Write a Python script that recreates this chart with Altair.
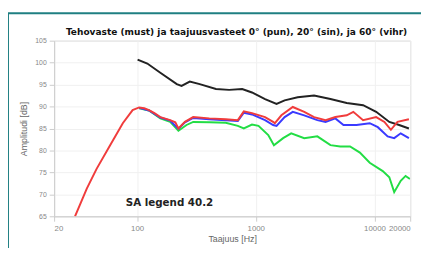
import altair as alt
import pandas as pd

# Power response (black)
black_f = [101, 122, 157, 216, 237, 278, 337, 462, 596, 768, 929, 1197, 1496, 1750, 2255, 3098, 4256, 5838, 8020, 10334, 13335, 16140, 19500]
black_db = [100.7, 99.8, 97.7, 95.1, 94.7, 95.7, 95.1, 94.0, 93.8, 94.0, 93.2, 91.7, 90.6, 91.4, 92.1, 92.5, 91.7, 90.8, 90.3, 88.8, 86.5, 85.8, 85.0]

# 0 deg (red)
red_f = [30, 37.7, 45.6, 58.8, 75.8, 91.7, 104, 115, 126, 140, 157, 190, 210, 223, 253, 297, 406, 559, 706, 793, 929, 1197, 1400, 1449, 1644, 2050, 2560, 3098, 3873, 4680, 5838, 6634, 8020, 10334, 12125, 13750, 15620, 19500]
red_db = [65.0, 71.3, 75.8, 81.0, 86.2, 89.2, 89.8, 89.6, 89.2, 88.5, 87.6, 86.9, 86.4, 85.0, 86.5, 87.6, 87.3, 87.1, 86.9, 88.9, 88.5, 87.6, 86.5, 86.2, 88.0, 89.9, 88.8, 87.6, 86.9, 87.6, 88.0, 88.8, 86.9, 87.6, 86.5, 84.7, 86.5, 87.1]

# 20 deg (blue)
blue_f = [104, 126, 157, 190, 223, 253, 297, 406, 559, 706, 793, 929, 1197, 1400, 1496, 1750, 2050, 2560, 3300, 3873, 4680, 5480, 7060, 9120, 10670, 12910, 14660, 16640, 19500]
blue_db = [89.7, 89.1, 87.5, 86.8, 84.9, 86.4, 87.4, 87.1, 86.9, 86.7, 88.6, 88.2, 86.9, 85.8, 85.6, 87.6, 88.8, 88.0, 86.9, 86.5, 87.3, 85.8, 85.8, 86.2, 85.3, 83.2, 82.8, 83.9, 82.8]

# 60 deg (green)
green_f = [104, 126, 157, 190, 223, 261, 297, 406, 559, 706, 793, 929, 1054, 1274, 1422, 1700, 1988, 2560, 3300, 4256, 5150, 6225, 7535, 9120, 11740, 13335, 14660, 16640, 18280, 19900]
green_db = [89.6, 89.1, 87.3, 86.5, 84.5, 85.8, 86.5, 86.4, 86.3, 85.6, 85.0, 85.9, 85.6, 83.5, 81.2, 82.8, 83.9, 82.8, 83.2, 81.2, 80.9, 80.9, 79.5, 77.2, 75.3, 73.9, 70.5, 73.1, 74.2, 73.5]

x_ticks = [20, 100, 1000, 10000, 20000]
y_ticks = [65, 70, 75, 80, 85, 90, 95, 100, 105]

title_text = ["Tehovaste (must) ja taajuusvasteet 0° (pun), 20° (sin), ja 60° (vihr)"]
note_text = ["SA legend 40.2"]

series = [("musta", black_f, black_db), ("vihr", green_f, green_db),
          ("sin", blue_f, blue_db), ("pun", red_f, red_db)]
rows = []
for i, (name, fs, dbs) in enumerate(series):
    for f, d in zip(fs, dbs):
        rows.append({"s": name, "o": i, "f": f, "db": d})
df = pd.DataFrame(rows)

FONT = "Liberation Sans"
BOLD = "DejaVu Sans"

x = alt.X("f:Q", scale=alt.Scale(type="log", domain=[20, 20000], nice=False),
          axis=alt.Axis(values=x_ticks, title="Taajuus [Hz]", format="d",
                        labelFontSize=8, labelColor="#888", titleFontSize=9,
                        titleColor="#666", titleFontWeight="normal", domainColor="#ccc",
                        tickColor="#ccc", gridColor="#f0f0f0", labelPadding=3, titlePadding=3,
                        labelFont=FONT, titleFont=FONT))
y = alt.Y("db:Q", scale=alt.Scale(domain=[65, 105], nice=False),
          axis=alt.Axis(values=y_ticks, title="Amplitudi [dB]", labelFontSize=7,
                        labelColor="#888", titleFontSize=9, titleColor="#666",
                        titleFontWeight="normal", domainColor="#ccc", tickColor="#ccc",
                        gridColor="#f0f0f0", labelPadding=3, titlePadding=6,
                        labelFont=FONT, titleFont=FONT))

lines = alt.Chart(df).mark_line(strokeWidth=2, clip=True).encode(
    x=x, y=y,
    color=alt.Color("s:N", scale=alt.Scale(domain=["musta", "vihr", "sin", "pun"],
                                           range=["#222222", "#22dd44", "#3a3aff", "#f03c3c"]),
                    legend=None),
    order="o:Q",
)

label = alt.Chart(pd.DataFrame({"t": note_text})).mark_text(
    align="left", baseline="middle", fontSize=10.5, fontWeight="bold", font=BOLD, color="#222"
).encode(x=alt.value(73), y=alt.value(166), text="t:N")

title = alt.Chart(pd.DataFrame({"t": title_text})).mark_text(
    align="center", baseline="middle", fontSize=9.2, fontWeight="bold", font=BOLD, color="#111"
).encode(x=alt.value(186), y=alt.value(-9), text="t:N")

border_top = alt.Chart(pd.DataFrame({"a": [0]})).mark_rule(color="#1f7f82", strokeWidth=2).encode(
    x=alt.value(-47), x2=alt.value(380), y=alt.value(-28))
border_left = alt.Chart(pd.DataFrame({"a": [0]})).mark_rule(color="#1f7f82", strokeWidth=2).encode(
    x=alt.value(-47), y=alt.value(-28), y2=alt.value(220))

chart = alt.layer(lines, label, title, border_top, border_left).properties(
    width=363, height=179,
    autosize=alt.AutoSizeParams(type="none"),
    padding={"left": 47, "top": 31, "right": 11, "bottom": 30},
).configure_view(stroke="#ccc")

chart.save("out.html", embed_options={"renderer": "svg", "actions": False})
